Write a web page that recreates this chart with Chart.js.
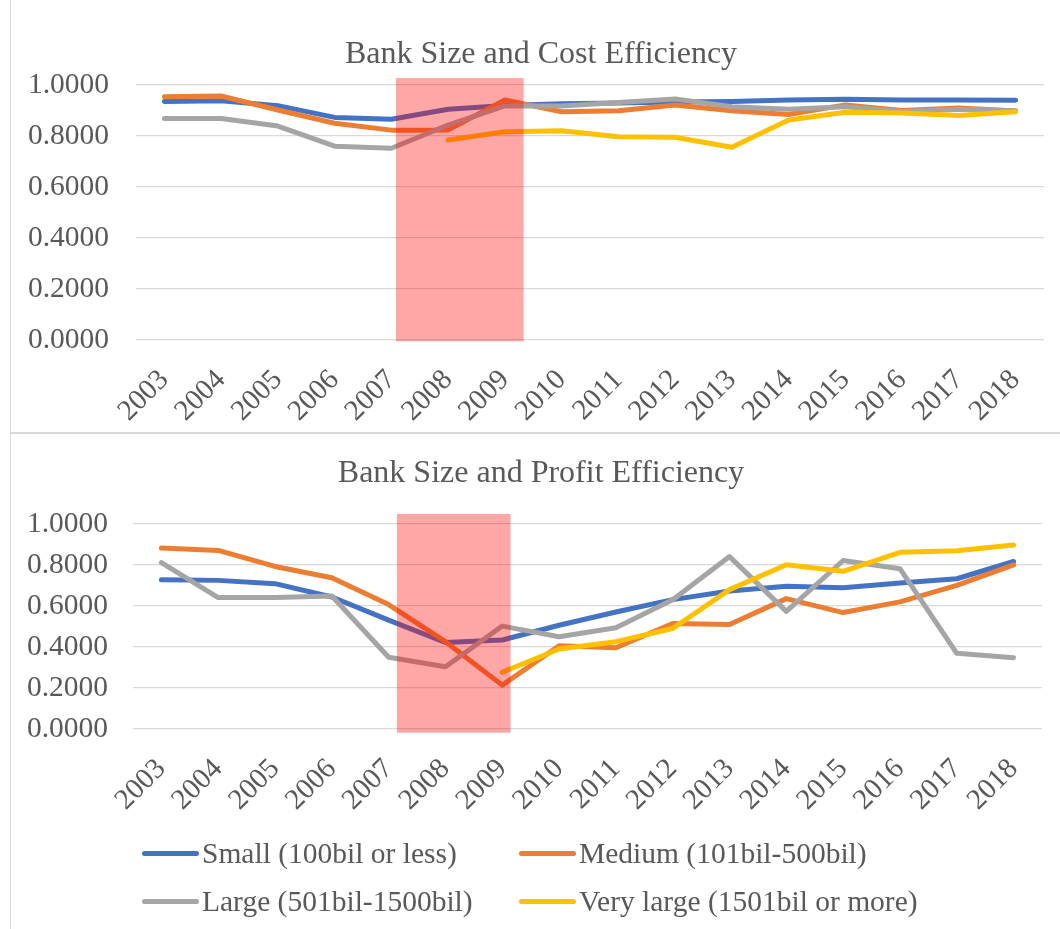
<!DOCTYPE html>
<html>
<head>
<meta charset="utf-8">
<script src="https://cdn.jsdelivr.net/npm/chart.js@4.4.1/dist/chart.umd.min.js"></script>
<style>
  html, body { margin: 0; padding: 0; background: #fff; }
  #wrap { position: relative; width: 1060px; height: 929px; overflow: hidden; }
  .panel { position: absolute; border: 1.5px solid #d9d9d9; box-sizing: border-box; }
  canvas { position: absolute; left: 0; }
  #legend { position: absolute; left: 0; top: 0; width: 1060px; height: 929px; pointer-events: none;
            font-family: "Liberation Serif", "Times New Roman", serif; font-size: 29.5px; color: #595959; }
  .item { position: absolute; display: flex; align-items: center; white-space: nowrap; }
  .swatch { width: 57px; height: 5px; border-radius: 3px; margin-right: 3px; }
</style>
</head>
<body>
<div id="wrap">
  <div class="panel" style="left:10px; top:-2px; width:1060px; height:436px;"></div>
  <div class="panel" style="left:10px; top:432px; width:1060px; height:500px;"></div>
  <canvas id="costChart" style="top:0px;"></canvas>
  <canvas id="profitChart" style="top:433px;"></canvas>
  <div id="legend"></div>
</div>
<script>
const years = ["2003", "2004", "2005", "2006", "2007", "2008", "2009", "2010",
               "2011", "2012", "2013", "2014", "2015", "2016", "2017", "2018"];
const seriesNames = ["Small (100bil or less)", "Medium (101bil-500bil)",
                     "Large (501bil-1500bil)", "Very large (1501bil or more)"];
const seriesColors = ["#4472C4", "#ED7D31", "#A5A5A5", "#FFC000"];

// Cost efficiency
const costSmall = [0.935, 0.938, 0.919, 0.873, 0.866, 0.905, 0.920, 0.926,
                   0.929, 0.933, 0.935, 0.941, 0.944, 0.941, 0.941, 0.940];
const costMedium = [0.954, 0.957, 0.902, 0.850, 0.823, 0.824, 0.941, 0.895,
                    0.899, 0.922, 0.899, 0.884, 0.922, 0.900, 0.910, 0.898];
const costLarge = [0.869, 0.869, 0.839, 0.760, 0.752, 0.843, 0.918, 0.918,
                   0.931, 0.945, 0.915, 0.905, 0.915, 0.896, 0.905, 0.899];
const costVeryLarge = [null, null, null, null, null, 0.784, 0.817, 0.821,
                       0.797, 0.795, 0.756, 0.863, 0.893, 0.890, 0.880, 0.895];

// Profit efficiency
const profitSmall = [0.728, 0.725, 0.709, 0.644, 0.531, 0.422, 0.434, 0.506,
                     0.571, 0.631, 0.673, 0.696, 0.689, 0.712, 0.733, 0.817];
const profitMedium = [0.883, 0.871, 0.793, 0.738, 0.607, 0.426, 0.214, 0.406,
                      0.396, 0.515, 0.510, 0.636, 0.568, 0.620, 0.701, 0.801];
const profitLarge = [0.812, 0.641, 0.642, 0.649, 0.350, 0.304, 0.502, 0.450,
                     0.494, 0.631, 0.841, 0.574, 0.822, 0.782, 0.369, 0.348];
const profitVeryLarge = [null, null, null, null, null, null, 0.277, 0.390,
                         0.426, 0.490, 0.680, 0.801, 0.769, 0.862, 0.870, 0.898];

const yTicks = [0, 0.2, 0.4, 0.6, 0.8, 1.0];

const textColor = "#595959";
const serif = "'Liberation Serif', 'Times New Roman', serif";

// shaded crisis band, drawn over the lines
const crisisBand = {
    id: "crisisBand",
    afterLayout(chart, args, opts) {
        // title is centred on the whole panel, not the canvas minus padding
        if (chart.titleBlock) chart.titleBlock.left = opts.titleLeft;
    },
    afterDatasetsDraw(chart, args, opts) {
        const { ctx, scales: { x, y } } = chart;
        const x0 = x.getPixelForValue(opts.from);
        const x1 = x.getPixelForValue(opts.to);
        const y0 = y.getPixelForValue(opts.top);
        const y1 = y.getPixelForValue(opts.bottom);
        ctx.save();
        ctx.fillStyle = "rgba(255, 0, 0, 0.35)";
        ctx.fillRect(x0, y0, x1 - x0, y1 - y0);
        ctx.restore();
    },
};

function makeChart(id, width, height, title, values, lay) {
    const canvas = document.getElementById(id);
    canvas.width = width;
    canvas.height = height;
    canvas.style.width = width + "px";
    canvas.style.height = height + "px";

    return new Chart(canvas, {
        type: "line",
        data: {
            labels: years,
            datasets: values.map((data, i) => ({
                label: seriesNames[i],
                data: data,
                borderColor: seriesColors[i],
                backgroundColor: seriesColors[i],
                borderWidth: 5,
                pointRadius: 0,
                tension: 0,
                borderCapStyle: "round",
                borderJoinStyle: "round",
                order: values.length - i,
            })),
        },
        plugins: [crisisBand],
        options: {
            responsive: false,
            animation: false,
            events: [],
            layout: { padding: { left: 0, right: lay.right, top: 0, bottom: 0 } },
            scales: {
                x: {
                    offset: true,
                    grid: { display: false },
                    border: { display: false },
                    ticks: {
                        color: textColor,
                        font: { family: serif, size: 29 },
                        autoSkip: false,
                        minRotation: 45,
                        maxRotation: 45,
                        padding: lay.xPad,
                    },
                    afterFit: (s) => { s.height = lay.xHeight; },
                },
                y: {
                    min: yTicks[0],
                    max: yTicks[yTicks.length - 1],
                    grid: { color: "#d9d9d9", lineWidth: 1.2, drawTicks: false },
                    border: { display: false },
                    ticks: {
                        stepSize: yTicks[1] - yTicks[0],
                        color: textColor,
                        font: { family: serif, size: 29.5 },
                        padding: lay.yPad,
                        callback: (v) => v.toFixed(4),
                    },
                    afterFit: (s) => { s.width = lay.yWidth; },
                },
            },
            plugins: {
                legend: { display: false },
                tooltip: { enabled: false },
                title: {
                    display: true,
                    text: title,
                    color: textColor,
                    font: { family: serif, size: 32, weight: "normal" },
                    padding: { top: lay.titleTop, bottom: lay.titleBottom },
                },
                crisisBand: lay.band,
            },
        },
    });
}

makeChart("costChart", 1060, 432, "Bank Size and Cost Efficiency",
    [costSmall, costMedium, costLarge, costVeryLarge],
    { right: 16, yWidth: 136, yPad: 27, xHeight: 92, xPad: 15,
      titleTop: 35, titleBottom: 11.6,
      band: { from: 4.08, to: 6.33, top: 1.027, bottom: -0.005, titleLeft: 38 } });

makeChart("profitChart", 1060, 396, "Bank Size and Profit Efficiency",
    [profitSmall, profitMedium, profitLarge, profitVeryLarge],
    { right: 18, yWidth: 133, yPad: 25, xHeight: 100, xPad: 15,
      titleTop: 21, titleBottom: 31.6,
      band: { from: 4.146, to: 6.146, top: 1.049, bottom: -0.018, titleLeft: 40 } });

// legend, two columns
const legendPos = [[142, 853], [519, 853], [142, 901], [519, 901]];
const legend = document.getElementById("legend");
seriesNames.forEach((name, i) => {
    const item = document.createElement("div");
    item.className = "item";
    item.style.left = legendPos[i][0] + "px";
    item.style.top = (legendPos[i][1] - 17) + "px";
    item.style.height = "34px";
    const sw = document.createElement("span");
    sw.className = "swatch";
    sw.style.background = seriesColors[i];
    const tx = document.createElement("span");
    tx.textContent = name;
    item.appendChild(sw);
    item.appendChild(tx);
    legend.appendChild(item);
});
</script>
</body>
</html>
